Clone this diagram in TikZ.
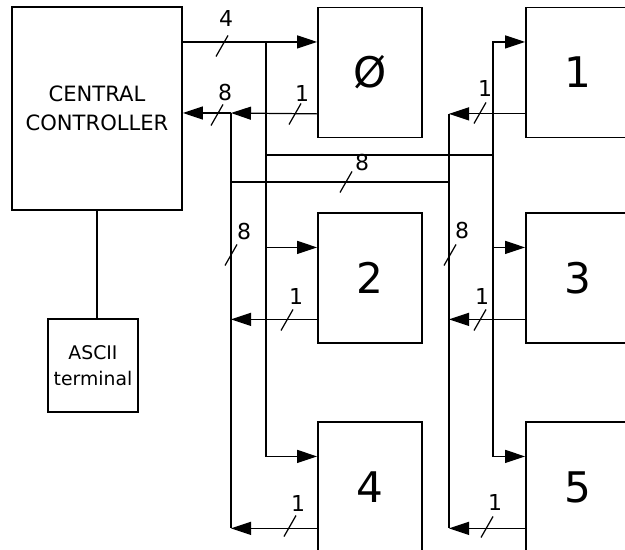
\documentclass[tikz,border=0pt]{standalone}
\usepackage{fontspec}
\setmainfont{DejaVu Sans}
\usetikzlibrary{arrows.meta}

\begin{document}
\begin{tikzpicture}[x=0.02cm, y=-0.02cm,
    proc/.style={rectangle, draw, line width=1.1pt, minimum width=2.08cm, minimum height=2.6cm, font=\fontsize{24}{28}\selectfont},
    ctrlbox/.style={rectangle, draw, line width=1.1pt, inner sep=1pt, minimum width=3.4cm, minimum height=4.06cm, align=center, font=\fontsize{12}{16.5}\selectfont},
    termbox/.style={rectangle, draw, line width=1.1pt, minimum width=1.76cm, minimum height=1.86cm, align=center, font=\fontsize{10.7}{14.7}\selectfont},
    wire/.style={line width=0.7pt},
    arrow/.style={wire, -{Triangle[length=4mm, width=2.6mm]}},
    slash/.style={line width=0.7pt},
    buswidth/.style={font=\fontsize{12.5}{14}\selectfont, inner sep=0pt}]

    \useasboundingbox (0,0) rectangle (625,550);
    \clip (0,0) rectangle (625,550);

    \node [ctrlbox] (ctrl) at (97,108.5) {CENTRAL\\CONTROLLER};
    \node [termbox] (term) at (93,365.5) {ASCII\\terminal};
    \node [proc] (p0) at (370,72.5) {Ø};
    \node [proc] (p1) at (578,72.5) {1};
    \node [proc] (p2) at (370,278) {2};
    \node [proc] (p3) at (578,278) {3};
    \node [proc] (p4) at (370,487) {4};
    \node [proc] (p5) at (578,487) {5};

    \coordinate (a0) at (266,42.5);
    \coordinate (a1) at (266,155);
    \coordinate (a2) at (493,155);
    \coordinate (b0) at (231,113);
    \coordinate (b1) at (231,182);
    \coordinate (b2) at (449,182);

    \draw [wire] (ctrl.south) -- (ctrl.south |- term.north);

    \draw [arrow] (ctrl.east |- p0.150) -- (p0.150);
    \draw [arrow] (a0) |- (p4.150);
    \draw [arrow] (a0 |- p2.150) -- (p2.150);
    \draw [wire] (a1) -- (a2);
    \draw [arrow] (a2) |- (p1.150);
    \draw [arrow] (a2) |- (p5.150);
    \draw [arrow] (a2 |- p3.150) -- (p3.150);

    \draw [arrow] (p0.218) -- (b0);
    \draw [arrow] (b0) -- (ctrl.east |- b0);
    \draw [wire] (b0) -- (b0 |- p4.218);
    \draw [arrow] (p2.218) -- (b0 |- p2.218);
    \draw [arrow] (p4.218) -- (b0 |- p4.218);
    \draw [wire] (b1) -- (b2);
    \draw [wire] (b2 |- p1.218) -- (b2 |- p5.218);
    \draw [arrow] (p1.218) -- (b2 |- p1.218);
    \draw [arrow] (p3.218) -- (b2 |- p3.218);
    \draw [arrow] (p5.218) -- (b2 |- p5.218);

    \draw [slash] (222,46) +(-6,10.5) -- +(6,-10.5);
    \node [buswidth] (w0) at (226,19) {4};
    \draw [slash] (217,115) +(-6,10.5) -- +(6,-10.5);
    \node [buswidth] (w1) at (225,93) {8};
    \draw [slash] (295,114) +(-6,10.5) -- +(6,-10.5);
    \node [buswidth] (w2) at (302,93) {1};
    \draw [slash] (346,182) +(-6,10.5) -- +(6,-10.5);
    \node [buswidth] (w3) at (362,163) {8};
    \draw [slash] (480,113) +(-6,10.5) -- +(6,-10.5);
    \node [buswidth] (w4) at (485,88) {1};
    \draw [slash] (231,255) +(-6,10.5) -- +(6,-10.5);
    \node [buswidth] (w5) at (244,232) {8};
    \draw [slash] (450,255) +(-6,10.5) -- +(6,-10.5);
    \node [buswidth] (w6) at (462,231) {8};
    \draw [slash] (287,320) +(-6,10.5) -- +(6,-10.5);
    \node [buswidth] (w7) at (296,296) {1};
    \draw [slash] (480,320) +(-6,10.5) -- +(6,-10.5);
    \node [buswidth] (w8) at (482,296) {1};
    \draw [slash] (290,526) +(-6,10.5) -- +(6,-10.5);
    \node [buswidth] (w9) at (298,503) {1};
    \draw [slash] (487,527) +(-6,10.5) -- +(6,-10.5);
    \node [buswidth] (w10) at (495,502) {1};
\end{tikzpicture}
\end{document}
